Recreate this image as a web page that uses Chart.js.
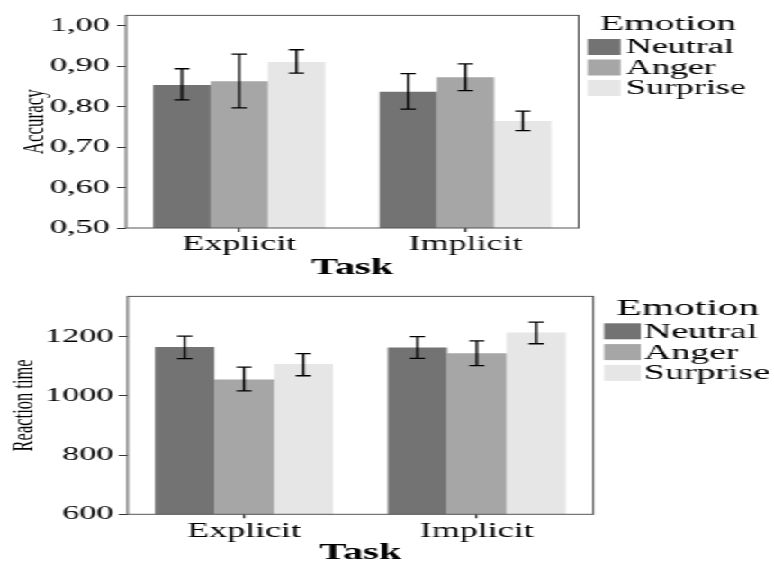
<!DOCTYPE html>
<html>
<head>
<meta charset="utf-8">
<script src="https://cdn.jsdelivr.net/npm/chart.js@4.4.1/dist/chart.umd.min.js"></script>
<style>
  html, body { margin: 0; padding: 0; background: #fff; overflow: hidden; }
  #wrap { width: 430px; height: 564px; transform: scaleX(1.8); transform-origin: 0 0; }
  canvas { display: block; }
</style>
</head>
<body>
<div id="wrap">
  <canvas id="acc" width="430" height="282"></canvas>
  <canvas id="rt" width="430" height="282"></canvas>
</div>
<script>
const tasks = ["Explicit", "Implicit"];
const emotions = ["Neutral", "Anger", "Surprise"];
const colors = ["#737373", "#a6a6a6", "#e6e6e6"];

// accuracy means and error bar ends, per emotion [Explicit, Implicit]
const accMean = [[0.854, 0.837], [0.863, 0.873], [0.911, 0.765]];
const accLow = [[0.817, 0.794], [0.797, 0.840], [0.883, 0.741]];
const accHigh = [[0.894, 0.882], [0.930, 0.906], [0.941, 0.789]];
const accTicks = [0.5, 0.6, 0.7, 0.8, 0.9, 1.0];

// reaction time
const rtMean = [[1165, 1163], [1055, 1144], [1108, 1214]];
const rtLow = [[1126, 1127], [1017, 1102], [1068, 1176]];
const rtHigh = [[1202, 1200], [1097, 1186], [1143, 1249]];
const rtTicks = [600, 800, 1000, 1200];

const serif = "'Liberation Serif', 'Times New Roman', serif";

// error bars + frame + legend
const extras = {
  id: "extras",
  afterDatasetsDraw(chart, args, opts) {
    const ctx = chart.ctx;
    const y = chart.scales.y;
    const a = chart.chartArea;
    ctx.save();
    ctx.strokeStyle = "#000";
    ctx.lineWidth = 1.3;
    chart.data.datasets.forEach((ds, i) => {
      const meta = chart.getDatasetMeta(i);
      meta.data.forEach((bar, j) => {
        const top = y.getPixelForValue(ds.high[j]);
        const bot = y.getPixelForValue(ds.low[j]);
        const x = bar.x;
        const w = 4.2;
        ctx.beginPath();
        ctx.moveTo(x, top); ctx.lineTo(x, bot);
        ctx.moveTo(x - w, top); ctx.lineTo(x + w, top);
        ctx.moveTo(x - w, bot); ctx.lineTo(x + w, bot);
        ctx.stroke();
      });
    });
    // frame
    ctx.strokeStyle = "#555";
    ctx.lineWidth = 1;
    ctx.strokeRect(a.left, a.top, a.right - a.left, a.bottom - a.top);

    // legend
    ctx.fillStyle = "#000";
    ctx.textBaseline = "middle";
    ctx.textAlign = "left";
    ctx.font = opts.titleSize + "px " + serif;
    ctx.fillText("Emotion", a.right + opts.titleDx, opts.titleY);
    ctx.font = opts.labelSize + "px " + serif;
    chart.data.datasets.forEach((ds, i) => {
      const by = opts.boxY + i * opts.pitch;
      ctx.fillStyle = ds.backgroundColor;
      ctx.fillRect(a.right + opts.boxDx, by, opts.boxW, 16);
      ctx.fillStyle = "#000";
      ctx.fillText(ds.label, a.right + opts.textDx, by + 9);
    });
    ctx.restore();
  }
};

function makeChart(id, means, lows, highs, ticks, yMin, yMax, yTitle, fmt, cfg) {
  const datasets = emotions.map((e, i) => ({
    label: e,
    data: means[i],
    low: lows[i],
    high: highs[i],
    backgroundColor: colors[i],
    borderWidth: 0,
    categoryPercentage: cfg.catPct,
    barPercentage: 1.0
  }));
  return new Chart(document.getElementById(id), {
    type: "bar",
    data: { labels: tasks, datasets: datasets },
    options: {
      responsive: false,
      animation: false,
      layout: { padding: { top: cfg.top, right: cfg.right, left: 0, bottom: 0 } },
      plugins: {
        legend: { display: false },
        tooltip: { enabled: false },
        extras: cfg.legend
      },
      scales: {
        x: {
          grid: { display: true, offset: false, drawOnChartArea: false, tickLength: 4, color: "#333", lineWidth: 1.2 },
          border: { display: false },
          ticks: { color: "#000", font: { family: serif, size: 20 }, padding: 1, maxRotation: 0 },
          title: { display: true, text: "Task", color: "#000", font: { family: serif, size: 22.5, weight: "bold", lineHeight: 1.0 }, padding: { top: 0, bottom: cfg.taskPad } },
          afterFit: (s) => { s.height = cfg.xHeight; }
        },
        y: {
          min: yMin,
          max: yMax,
          afterBuildTicks: (s) => { s.ticks = ticks.map(v => ({ value: v })); },
          grid: { drawOnChartArea: false, tickLength: 5, color: "#333" },
          border: { display: false },
          ticks: { color: "#000", font: { family: serif, size: 19 }, padding: cfg.tickPad, callback: fmt },
          title: { display: true, text: yTitle, color: "#000", font: { family: serif, size: cfg.yTitleSize, lineHeight: 1.2 }, padding: { top: cfg.yTitlePad, bottom: 0 } },
          afterFit: (s) => { s.width = cfg.yWidth; }
        }
      }
    },
    plugins: [extras]
  });
}

makeChart("acc", accMean, accLow, accHigh, accTicks, 0.5, 1.026, "Accuracy",
  (v) => v.toFixed(2).replace(".", ","),
  { catPct: 0.76, top: 8, right: 108.5, xHeight: 54, yWidth: 70, tickPad: 4, yTitlePad: 9.5, yTitleSize: 17, taskPad: 2.5,
    legend: { titleSize: 22, titleDx: 11.7, titleY: 24.5, labelSize: 20, boxDx: 5, boxW: 18.3, boxY: 39, pitch: 20.5, textDx: 26.3 } });

makeChart("rt", rtMean, rtLow, rtHigh, rtTicks, 600, 1336, "Reaction time",
  (v) => String(v),
  { catPct: 0.765, top: 10.3, right: 100.4, xHeight: 49.7, yWidth: 70.9, tickPad: 3, yTitlePad: 4, yTitleSize: 16.5, taskPad: 0,
    legend: { titleSize: 23, titleDx: 13, titleY: 27, labelSize: 21, boxDx: 6, boxW: 20.4, boxY: 41.3, pitch: 20.8, textDx: 28.2 } });
</script>
</body>
</html>
